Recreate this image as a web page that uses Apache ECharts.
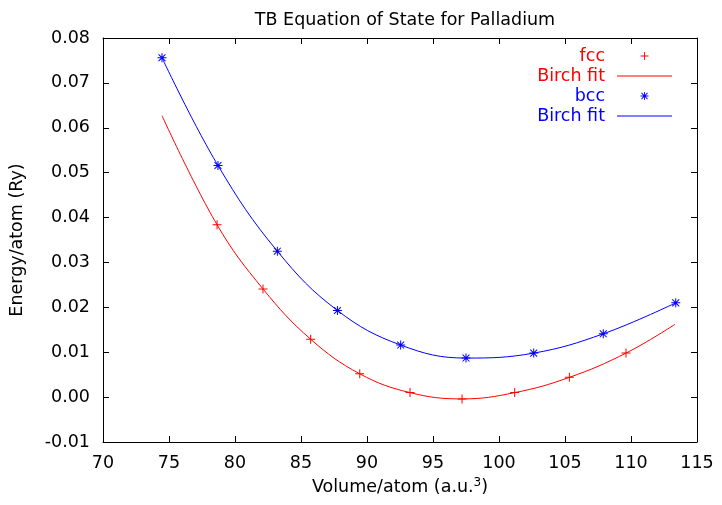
<!DOCTYPE html>
<html>
<head>
<meta charset="utf-8">
<script src="https://cdn.jsdelivr.net/npm/echarts@6/dist/echarts.min.js"></script>
<style>
  html, body { margin: 0; padding: 0; background: #fff; }
  #chart { width: 722px; height: 505px; }
</style>
</head>
<body>
<div id="chart"></div>
<script>
  // values
  var fccVolume = [78.64, 82.12, 85.73, 89.45, 93.26, 97.2, 101.19, 105.33, 109.62];
  var fccEnergy = [0.0384, 0.0241, 0.0129, 0.0052, 0.0010, -0.0004, 0.0010, 0.0044, 0.0098];
  var fccFitVolume = [74.47, 78.64, 82.12, 85.73, 89.45, 93.26, 97.2, 101.19, 105.33, 109.62, 113.33];
  var fccFitEnergy = [0.0627, 0.0384, 0.0241, 0.0129, 0.0052, 0.0010, -0.0004, 0.0010, 0.0044, 0.0098, 0.0162];

  var bccVolume = [74.47, 78.71, 83.21, 87.76, 92.55, 97.5, 102.63, 107.9, 113.39];
  var bccEnergy = [0.0756, 0.0516, 0.0325, 0.0193, 0.0116, 0.0087, 0.0098, 0.0141, 0.0210];

  var xTicks = [70, 115, 5];
  var yTicks = [-0.01, 0.08, 0.01];

  function pairs(xs, ys) {
    var out = [];
    for (var i = 0; i < xs.length; i++) {
      out.push([xs[i], ys[i]]);
    }
    return out;
  }

  var plus = 'path://M4 0H5V9H4ZM0 4H9V5H0Z';
  var star = 'path://M4 0H5V9H4ZM0 4H9V5H0ZM0.7 1.4L1.4 0.7L8.3 7.6L7.6 8.3ZM7.6 0.7L8.3 1.4L1.4 8.3L0.7 7.6Z';
  var lineIcon = 'path://M0 0H55V1H0Z';
  var font = '"DejaVu Sans", "Liberation Sans", Arial, sans-serif';
  var fs = 17.5;

  function axisBase(pos, type) {
    return {
      type: 'value',
      position: pos,
      min: type == 'x' ? xTicks[0] : yTicks[0],
      max: type == 'x' ? xTicks[1] : yTicks[1],
      interval: type == 'x' ? xTicks[2] : yTicks[2],
      axisLine: { show: true, onZero: false, lineStyle: { color: '#000', width: 1 } },
      axisTick: { show: true, inside: true, length: 6, lineStyle: { color: '#000' } },
      splitLine: { show: false },
      axisLabel: { show: false }
    };
  }

  var xBottom = axisBase('bottom', 'x');
  xBottom.axisLabel = { show: true, color: '#000', fontSize: fs, fontFamily: font, margin: 12 };
  xBottom.name = 'Volume/atom (a.u.{s|3})';
  xBottom.nameLocation = 'middle';
  xBottom.nameGap = 33;
  xBottom.nameTextStyle = {
    color: '#000', fontSize: fs, fontFamily: font,
    rich: { s: { fontSize: 12, fontFamily: font, color: '#000', verticalAlign: 'top', padding: [0, 0, 10, 0] } }
  };

  var yLeft = axisBase('left', 'y');
  yLeft.axisLabel = {
    show: true, color: '#000', fontSize: fs, fontFamily: font, margin: 13,
    formatter: function (v) { return v.toFixed(2); }
  };
  yLeft.name = 'Energy/atom (Ry)';
  yLeft.nameLocation = 'middle';
  yLeft.nameGap = 77;
  yLeft.nameTextStyle = { color: '#000', fontSize: fs, fontFamily: font };

  var chart = echarts.init(document.getElementById('chart'));
  chart.setOption({
    animation: false,
    backgroundColor: '#fff',
    title: {
      text: 'TB Equation of State for Palladium',
      left: 400,
      textAlign: 'center',
      top: 6,
      textStyle: { color: '#000', fontSize: fs, fontWeight: 'normal', fontFamily: font }
    },
    grid: { left: 103, right: 25, top: 38, bottom: 63 },
    legend: {
      orient: 'vertical',
      right: 45,
      top: 41,
      align: 'right',
      itemWidth: 55,
      itemHeight: 8,
      itemGap: 0,
      textStyle: { fontSize: fs, fontFamily: font, lineHeight: 20, padding: [0, 7, 0, 0] },
      formatter: function (name) { return name.indexOf('fit') >= 0 ? 'Birch fit' : name; },
      data: [
        { name: 'fcc', textStyle: { color: '#ff0000' } },
        { name: 'fcc fit', icon: lineIcon, textStyle: { color: '#ff0000' } },
        { name: 'bcc', textStyle: { color: '#0000ff' } },
        { name: 'bcc fit', icon: lineIcon, textStyle: { color: '#0000ff' } }
      ]
    },
    xAxis: [xBottom, axisBase('top', 'x')],
    yAxis: [yLeft, axisBase('right', 'y')],
    series: [
      {
        name: 'fcc fit',
        type: 'line',
        data: pairs(fccFitVolume, fccFitEnergy),
        smooth: 0.4,
        symbol: 'none',
        showSymbol: false,
        lineStyle: { color: '#ff0000', width: 1 },
        itemStyle: { color: '#ff0000' },
        z: 2
      },
      {
        name: 'bcc fit',
        type: 'line',
        data: pairs(bccVolume, bccEnergy),
        smooth: 0.4,
        symbol: 'none',
        showSymbol: false,
        lineStyle: { color: '#0000ff', width: 1 },
        itemStyle: { color: '#0000ff' },
        z: 2
      },
      {
        name: 'fcc',
        type: 'scatter',
        data: pairs(fccVolume, fccEnergy),
        symbol: plus,
        symbolSize: 9,
        itemStyle: { color: '#ff0000', opacity: 1 },
        z: 3
      },
      {
        name: 'bcc',
        type: 'scatter',
        data: pairs(bccVolume, bccEnergy),
        symbol: star,
        symbolSize: 9,
        itemStyle: { color: '#0000ff', opacity: 1 },
        z: 3
      }
    ]
  });
</script>
</body>
</html>
